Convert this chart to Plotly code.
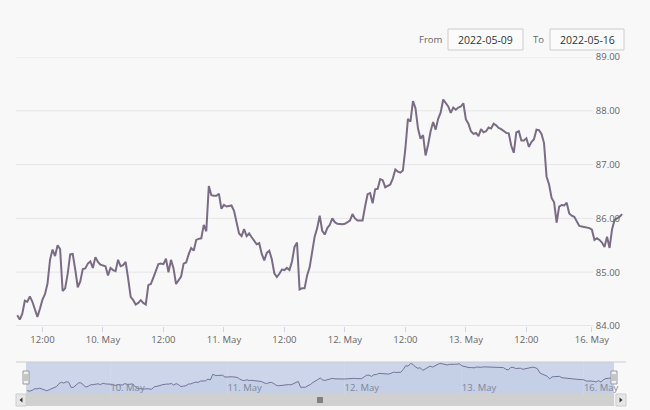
import pandas as pd
import plotly.graph_objects as go

# ---------------- data (30-minute closes) ----------------
# 9 May 07:00 -> 9 May 23:30
may09 = [84.20, 84.12, 84.23, 84.47, 84.45, 84.55, 84.45, 84.30, 84.17, 84.32,
         84.49, 84.59, 84.79, 85.23, 85.42, 85.30, 85.50, 85.43, 84.65, 84.70,
         84.97, 85.33, 85.34, 85.05, 84.72, 84.83, 85.06, 85.07, 85.16, 85.20,
         85.08, 85.28, 85.19, 85.14]
# 10 May 00:00 -> 23:30
may10 = [85.13, 85.11, 84.94, 85.08, 85.04, 85.02, 85.23, 85.11, 85.13, 85.19,
         84.88, 84.54, 84.48, 84.40, 84.43, 84.48, 84.43, 84.40, 84.76, 84.78,
         84.90, 85.03, 85.15, 85.16, 85.15, 85.25, 85.00, 85.23, 85.07, 84.78,
         84.86, 84.92, 85.16, 85.18, 85.33, 85.45, 85.40, 85.60, 85.62, 85.63,
         85.88, 85.76, 86.60, 86.43, 86.42, 86.42, 86.46, 86.18]
# 11 May 00:00 -> 23:30
may11 = [86.25, 86.22, 86.23, 86.24, 86.14, 85.91, 85.72, 85.67, 85.80, 85.67,
         85.72, 85.65, 85.58, 85.52, 85.54, 85.34, 85.22, 85.36, 85.40, 85.24,
         84.98, 84.91, 84.97, 85.05, 85.04, 85.08, 85.04, 85.20, 85.47, 85.55,
         84.68, 84.70, 84.70, 84.94, 85.09, 85.38, 85.66, 85.82, 86.05, 85.77,
         85.70, 85.82, 85.88, 86.00, 85.93, 85.90, 85.89, 85.89]
# 12 May 00:00 -> 23:30
may12 = [85.90, 85.93, 85.96, 86.08, 86.00, 85.96, 85.96, 85.96, 86.22, 86.45,
         86.47, 86.28, 86.54, 86.55, 86.73, 86.71, 86.58, 86.61, 86.63, 86.74,
         86.91, 86.87, 86.85, 86.89, 87.30, 87.85, 87.80, 88.18, 88.05, 87.67,
         87.48, 87.55, 87.17, 87.37, 87.62, 87.79, 87.65, 87.85, 87.97, 88.21,
         88.14, 88.08, 87.96, 88.06, 88.02, 88.06, 88.08, 88.14]
# 13 May 00:00 -> 21:30
may13 = [87.84, 87.76, 87.62, 87.57, 87.59, 87.53, 87.66, 87.60, 87.62, 87.69,
         87.67, 87.76, 87.73, 87.68, 87.66, 87.63, 87.59, 87.58, 87.35, 87.22,
         87.60, 87.62, 87.45, 87.45, 87.49, 87.33, 87.42, 87.47, 87.65, 87.64,
         87.57, 87.40, 86.78, 86.63, 86.38, 86.30, 85.92, 86.22, 86.25, 86.24,
         86.29, 86.09, 86.05, 86.03]
# 15 May 21:00 -> 16 May 06:00
may16 = [85.95, 85.86, 85.85, 85.84, 85.83, 85.82, 85.79, 85.60, 85.63, 85.60,
         85.55, 85.47, 85.66, 85.45, 85.80, 85.97, 86.00, 86.03, 86.08]

week_start = "2022-05-09 07:00"
monday_start = "2022-05-15 21:00"
weekend_break = ["2022-05-13 22:00", "2022-05-15 21:00"]
view_range = ["2022-05-09 06:45", "2022-05-16 06:10"]

x_tick_vals = ["2022-05-09 12:00", "2022-05-10", "2022-05-10 12:00", "2022-05-11",
               "2022-05-11 12:00", "2022-05-12", "2022-05-12 12:00", "2022-05-13",
               "2022-05-13 12:00", "2022-05-16"]
x_tick_text = ["12:00", "10. May", "12:00", "11. May", "12:00", "12. May", "12:00",
               "13. May", "12:00", "16. May"]
y_ticks = [84, 85, 86, 87, 88, 89]
nav_tick_vals = ["2022-05-10", "2022-05-11", "2022-05-12", "2022-05-13", "2022-05-16"]
nav_tick_text = ["10. May", "11. May", "12. May", "13. May", "16. May"]
date_from, date_to = "2022-05-09", "2022-05-16"

week_vals = may09 + may10 + may11 + may12 + may13
times = pd.date_range(week_start, periods=len(week_vals), freq="30min").append(
    pd.date_range(monday_start, periods=len(may16), freq="30min"))
prices = week_vals + may16

# ---------------- layout helpers (pixel -> paper) ----------------
PX_L, PX_R, PX_T, PX_B = 16, 623, 57, 394
def fx(x):
    return (x - PX_L) / (PX_R - PX_L)
def fy(y):
    return (PX_B - y) / (PX_B - PX_T)

BG = "#f8f8f9"
LINE = "#7a6c85"
FONT = "Open Sans"

fig = go.Figure()
fig.add_trace(go.Scatter(x=times, y=prices, mode="lines", xaxis="x", yaxis="y",
                         line=dict(color=LINE, width=2), hoverinfo="skip"))
fig.add_trace(go.Scatter(x=times, y=prices, mode="lines", xaxis="x2", yaxis="y2",
                         line=dict(color=LINE, width=1), fill="tozeroy",
                         fillcolor="rgba(51,92,173,0.05)", hoverinfo="skip"))

shapes = []
# horizontal grid lines (stop before the labels)
for v in y_ticks:
    shapes.append(dict(type="line", xref="paper", yref="y", x0=0, x1=fx(593), y0=v, y1=v,
                       line=dict(color="#ccd6eb" if v == y_ticks[0] else "#e6e6e6", width=1),
                       layer="below"))
# navigator mask + outline
shapes.append(dict(type="rect", xref="paper", yref="paper", x0=fx(26), x1=fx(614),
                   y0=fy(394), y1=fy(362), fillcolor="rgba(102,133,194,0.3)",
                   line=dict(width=0), layer="above"))
shapes.append(dict(type="line", xref="paper", yref="paper", x0=fx(16), x1=fx(626),
                   y0=fy(362), y1=fy(362), line=dict(color="#cccccc", width=1), layer="above"))
# handles
for hx in (26, 614):
    shapes.append(dict(type="rect", xref="paper", yref="paper", x0=fx(hx - 3), x1=fx(hx + 3),
                       y0=fy(384), y1=fy(371), fillcolor="#f2f2f2",
                       line=dict(color="#999999", width=1), layer="above"))
    for gx in (hx - 1, hx + 1):
        shapes.append(dict(type="line", xref="paper", yref="paper", x0=fx(gx), x1=fx(gx),
                           y0=fy(381), y1=fy(374), line=dict(color="#999999", width=1),
                           layer="above"))
# scrollbar
shapes.append(dict(type="rect", xref="paper", yref="paper", x0=fx(16), x1=fx(626),
                   y0=fy(406), y1=fy(394), fillcolor="#f2f2f2", line=dict(width=0)))
shapes.append(dict(type="rect", xref="paper", yref="paper", x0=fx(26), x1=fx(614),
                   y0=fy(406), y1=fy(394), fillcolor="#d0d0d0", line=dict(width=0)))
for bx0, bx1 in ((16, 26), (616, 626)):
    shapes.append(dict(type="rect", xref="paper", yref="paper", x0=fx(bx0), x1=fx(bx1),
                       y0=fy(406), y1=fy(394), fillcolor="#e6e6e6",
                       line=dict(color="#cccccc", width=1)))
def tri(pts):
    return "M " + " L ".join(f"{fx(a)},{fy(b)}" for a, b in pts) + " Z"
shapes.append(dict(type="path", xref="paper", yref="paper",
                   path=tri([(22.5, 397.5), (19.5, 400), (22.5, 402.5)]),
                   fillcolor="#333333", line=dict(width=0)))
shapes.append(dict(type="path", xref="paper", yref="paper",
                   path=tri([(619.5, 397.5), (622.5, 400), (619.5, 402.5)]),
                   fillcolor="#333333", line=dict(width=0)))
for gx in (318, 320, 322):
    shapes.append(dict(type="line", xref="paper", yref="paper", x0=fx(gx), x1=fx(gx),
                       y0=fy(403), y1=fy(397), line=dict(color="#333333", width=1)))
# range input boxes
for bx0, bx1 in ((448, 523), (550, 624)):
    shapes.append(dict(type="rect", xref="paper", yref="paper", x0=fx(bx0), x1=fx(bx1),
                       y0=fy(50), y1=fy(29), fillcolor="#fbfbfb",
                       line=dict(color="#cccccc", width=1)))

def label(text, x, size, color):
    return dict(text=text, x=fx(x), y=fy(40), xref="paper", yref="paper",
                xanchor="center", yanchor="middle", showarrow=False,
                font=dict(family=FONT, size=size, color=color))

annotations = [
    label("From", 431, 9.5, "#666666"),
    label(date_from, 485.5, 10.5, "#333333"),
    label("To", 538, 9.5, "#666666"),
    label(date_to, 587, 10.5, "#333333"),
]

fig.update_layout(
    width=650, height=410, margin=dict(l=PX_L, r=650 - PX_R, t=PX_T, b=410 - PX_B),
    paper_bgcolor=BG, plot_bgcolor=BG, showlegend=False,
    font=dict(family=FONT, color="#666666"),
    xaxis=dict(domain=[0, 1], anchor="y", range=view_range, automargin=False,
               rangebreaks=[dict(bounds=weekend_break)],
               tickmode="array", tickvals=x_tick_vals, ticktext=x_tick_text,
               ticks="outside", ticklen=5, tickcolor="#ccd6eb",
               showgrid=False, zeroline=False, showline=False,
               tickfont=dict(family=FONT, size=9.5, color="#666666")),
    yaxis=dict(domain=[fy(326), 1], anchor="x", range=[y_ticks[0], y_ticks[-1]],
               automargin=False,
               side="right", ticklabelposition="inside", ticklabeloverflow="allow",
               tickmode="array", tickvals=y_ticks, tickformat=".2f",
               showgrid=False, zeroline=False, showline=False, ticks="",
               tickfont=dict(family=FONT, size=9.5, color="#666666")),
    xaxis2=dict(domain=[fx(26), fx(614)], anchor="y2", range=view_range, automargin=False,
                rangebreaks=[dict(bounds=weekend_break)],
                tickmode="array", tickvals=nav_tick_vals, ticktext=nav_tick_text,
                ticklabelposition="inside right", ticklabelstandoff=-5,
                ticklabeloverflow="allow", ticks="",
                showgrid=True, gridcolor="#ffffff", zeroline=False, showline=False,
                tickfont=dict(family=FONT, size=9.5, color="#888888")),
    yaxis2=dict(domain=[0, fy(362)], anchor="x2", range=[83.7, 88.4], visible=False),
    shapes=shapes, annotations=annotations,
)

fig.write_html("out.html", config={"displayModeBar": False})
